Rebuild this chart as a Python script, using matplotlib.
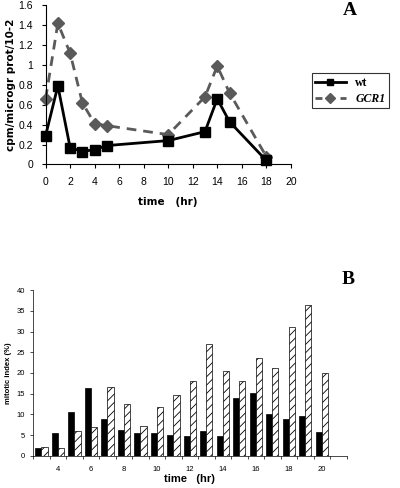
import matplotlib.pyplot as plt
from matplotlib.lines import Line2D
import numpy as np

# panel A: incorporation
time_a = [0, 1, 2, 3, 4, 5, 10, 13, 14, 15, 18]
wt = [0.29, 0.79, 0.17, 0.13, 0.15, 0.19, 0.24, 0.33, 0.66, 0.43, 0.04]
gcr1 = [0.66, 1.42, 1.12, 0.62, 0.41, 0.39, 0.30, 0.68, 0.99, 0.72, 0.08]

# panel B: mitotic index
hours_b = [3, 4, 5, 6, 7, 8, 9, 10, 11, 12, 13, 14, 15, 16, 17, 18, 19, 20]
mit_black = [2.0, 5.4, 10.6, 16.3, 9.0, 6.3, 5.6, 5.5, 5.0, 4.7,
             5.9, 4.7, 14.0, 15.1, 10.0, 8.8, 9.6, 5.7]
mit_hatch = [2.2, 1.9, 5.9, 6.9, 16.5, 12.4, 7.3, 11.8, 14.6, 18.0,
             27.1, 20.4, 18.0, 23.5, 21.1, 31.0, 36.4, 20.1]
b_tick_labels = [4, 6, 8, 10, 12, 14, 16, 18, 20]

plt.rcParams["font.family"] = ["Liberation Sans", "DejaVu Sans"]
plt.rcParams["hatch.linewidth"] = 0.6

fig = plt.figure(figsize=(4.0, 4.88), dpi=100)

# ---- panel A
ax_a = fig.add_axes([0.114, 0.663, 0.613, 0.326])
ax_a.plot(time_a, gcr1, color="#5a5a5a", linestyle=(0, (3.5, 2.5)), linewidth=2.0,
          marker="D", markersize=6, markerfacecolor="#5a5a5a",
          markeredgecolor="#5a5a5a", label="GCR1", zorder=2, clip_on=False)
ax_a.plot(time_a, wt, color="black", linewidth=2.0, marker="s", markersize=6.5,
          label="wt", zorder=3, clip_on=False)
ax_a.set_xlim(0, 20)
ax_a.set_ylim(0, 1.6)
ax_a.set_xticks(np.arange(0, 21, 2))
ax_a.set_yticks(np.arange(0, 1.61, 0.2))
ax_a.set_yticklabels(["0", "0.2", "0.4", "0.6", "0.8", "1", "1.2", "1.4", "1.6"])
ax_a.spines["top"].set_visible(False)
ax_a.spines["right"].set_visible(False)
ax_a.tick_params(labelsize=7.5, length=3, width=0.8, pad=6)
ax_a.set_ylabel("cpm/microgr prot/10-2", fontsize=7.5, fontweight="heavy",
                family="DejaVu Sans", labelpad=2)
ax_a.set_xlabel("time   (hr)", fontsize=7.5, fontweight="bold",
                family="DejaVu Sans", labelpad=7)

handles = [
    Line2D([], [], color="black", linewidth=2.0, marker="s", markersize=5),
    Line2D([], [], color="#5a5a5a", linewidth=2.0, linestyle=(0, (2.5, 2)),
           marker="D", markersize=5),
]
leg = fig.legend(handles, ["wt", "GCR1"], loc="upper left",
                 bbox_to_anchor=(0.764, 0.862), frameon=True, fancybox=False,
                 handlelength=2.6, borderpad=0.3, labelspacing=0.35,
                 prop={"family": "Liberation Serif", "weight": "bold", "size": 8.5})
leg.get_frame().set_edgecolor("black")
leg.get_frame().set_linewidth(0.8)
leg.get_texts()[1].set_fontstyle("italic")

fig.text(0.875, 0.978, "A", fontsize=14, fontweight="bold",
         family="Liberation Serif", ha="center", va="center")

# ---- panel B
ax_b = fig.add_axes([0.083, 0.066, 0.7835, 0.3395])
x = np.array(hours_b)
w = 0.37
ax_b.bar(x - w / 2, mit_black, width=w, color="black", edgecolor="black",
         linewidth=0.5)
ax_b.bar(x + w / 2, mit_hatch, width=w, color="white", edgecolor="black",
         linewidth=0.5, hatch="////")
ax_b.set_xlim(2.5, 21.5)
ax_b.set_ylim(0, 40)
ax_b.set_yticks(np.arange(0, 41, 5))
ax_b.set_xticks(np.arange(2.5, 21.6, 1), minor=False)
ax_b.set_xticklabels([])
ax_b.set_xticks(b_tick_labels, minor=True)
ax_b.set_xticklabels([str(v) for v in b_tick_labels], minor=True)
ax_b.tick_params(axis="x", which="minor", length=0, labelsize=5.5, pad=7)
ax_b.tick_params(axis="x", which="major", length=2.5, width=0.5)
ax_b.tick_params(axis="y", labelsize=5.5, length=2.5, width=0.5)
ax_b.spines["top"].set_visible(False)
ax_b.spines["right"].set_visible(False)
ax_b.spines["left"].set_linewidth(0.5)
ax_b.spines["bottom"].set_linewidth(0.5)
ax_b.set_ylabel("mitotic index (%)", fontsize=5.5, fontweight="bold", labelpad=3)
ax_b.set_xlabel("time   (hr)", fontsize=8, fontweight="bold", labelpad=1)

fig.text(0.87, 0.427, "B", fontsize=14, fontweight="bold",
         family="Liberation Serif", ha="center", va="center")

fig.savefig("out.png", dpi=100)
